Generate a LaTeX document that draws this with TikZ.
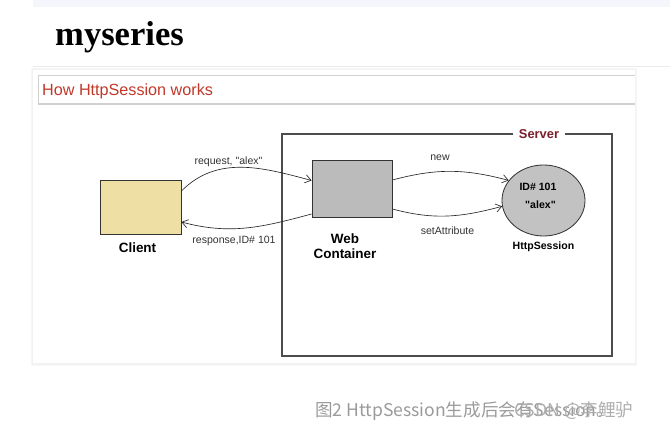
\documentclass[tikz,border=0pt]{standalone}
\usepackage{fontspec}
\setmainfont{Liberation Sans}
\newfontfamily\headserif{Liberation Serif}
\newfontfamily\cjk{Noto Sans CJK SC}
\usetikzlibrary{arrows.meta,calc,shapes.geometric}

\definecolor{bandblue}{HTML}{F3F6FA}
\definecolor{titlered}{HTML}{C0392B}
\definecolor{serverred}{HTML}{7A1F2B}
\definecolor{clientfill}{HTML}{EEDFA5}
\definecolor{webfill}{HTML}{BBBBBB}
\definecolor{sessfill}{HTML}{C2C2C2}
\definecolor{capgray}{HTML}{9A9A9A}

\tikzset{
  box/.style={draw=black!80,line width=0.7pt},
  flow/.style={draw=black!85,line width=0.55pt,-{Straight Barb[length=5pt,width=7pt]}},
  lbl/.style={font=\fontsize{9}{10}\selectfont,text=black!80,inner sep=1pt},
  boxlbl/.style={font=\bfseries\fontsize{11.5}{13.5}\selectfont,inner sep=1pt,align=center},
  smalllbl/.style={font=\bfseries\fontsize{9}{10}\selectfont,inner sep=1pt}
}

\begin{document}
\begin{tikzpicture}[x=0.03cm,y=-0.03cm]
  \useasboundingbox (0,0) rectangle (670,429);
  % page
  \fill[bandblue] (33,0) rectangle (670,7);
  \node[anchor=west,inner sep=0pt,font=\headserif\bfseries\fontsize{29.5}{31}\selectfont] (head) at (55,37) {myseries};
  \draw[black!8,line width=0.8pt] (33,66) -- (670,66);
  % card
  \fill[black!3] (31,68) rectangle (637,366);
  \fill[black!5] (32,69) rectangle (636,364.5);
  \fill[white] (33,70) rectangle (635,363);
  \fill[black!18] (38,75) rectangle (635,105.5);
  \fill[white] (38.6,75.6) rectangle (635,103.5);
  \node[anchor=west,inner sep=0pt,text=titlered,font=\fontsize{13.8}{15}\selectfont] (title) at (42,91) {How HttpSession works};
  % server
  \draw[black!70,line width=0.9pt] (282,134) rectangle (612,356);
  \node[fill=white,text=serverred,font=\bfseries\fontsize{11}{12}\selectfont,inner xsep=5pt,inner ysep=1pt] (server) at (539,134) {Server};
  % boxes
  \node[box,fill=clientfill,minimum width=2.43cm,minimum height=1.62cm] (client) at (140.5,207) {};
  \node[box,fill=webfill,minimum width=2.4cm,minimum height=1.71cm] (web) at (352,188.5) {};
  \node[box,ellipse,fill=sessfill,minimum width=2.49cm,minimum height=2.13cm,inner sep=0pt] (sess) at (543.5,200.5) {};
  \node[boxlbl] (clientlbl) at (137.5,248) {Client};
  \node[boxlbl] (weblbl) at (345,246) {Web\\[-1pt]Container};
  \node[smalllbl] (sesslbl) at (543.5,247) {HttpSession};
  \node[smalllbl] (sessid) at (538,187) {ID\# 101};
  \node[smalllbl] (sessval) at (540.5,205) {\textquotedbl alex\textquotedbl};
  % connectors
  \draw[flow] ($(client.east)+(0,-16)$) to[out=45,in=165] ($(web.west)+(0,-8)$);
  \draw[flow] ($(web.west)+(0,25.5)$) to[out=195,in=-15] ($(client.east)+(0,15)$);
  \draw[flow] ($(web.east)+(0,-8.5)$) to[out=15,in=165] (sess.150);
  \draw[flow] ($(web.east)+(0,20.5)$) to[out=-15,in=195] (sess.188);
  \node[lbl] (reqlbl) at (228.5,162) {request, \textquotedbl alex\textquotedbl};
  \node[lbl] (resplbl) at (234,241) {response,ID\# 101};
  \node[lbl] (newlbl) at (440,158) {new};
  \node[lbl] (setlbl) at (447.5,231) {setAttribute};
  % caption
  \node[anchor=west,inner sep=0pt,text=capgray,font=\cjk\fontsize{15}{17}\selectfont] (caption) at (315,411) {图2 HttpSession生成后会有Session。};
  \node[anchor=west,inner sep=0pt,text=capgray!80,font=\cjk\fontsize{15}{17}\selectfont] (mark) at (514,411) {CSDN @李鲤驴};
\end{tikzpicture}
\end{document}
